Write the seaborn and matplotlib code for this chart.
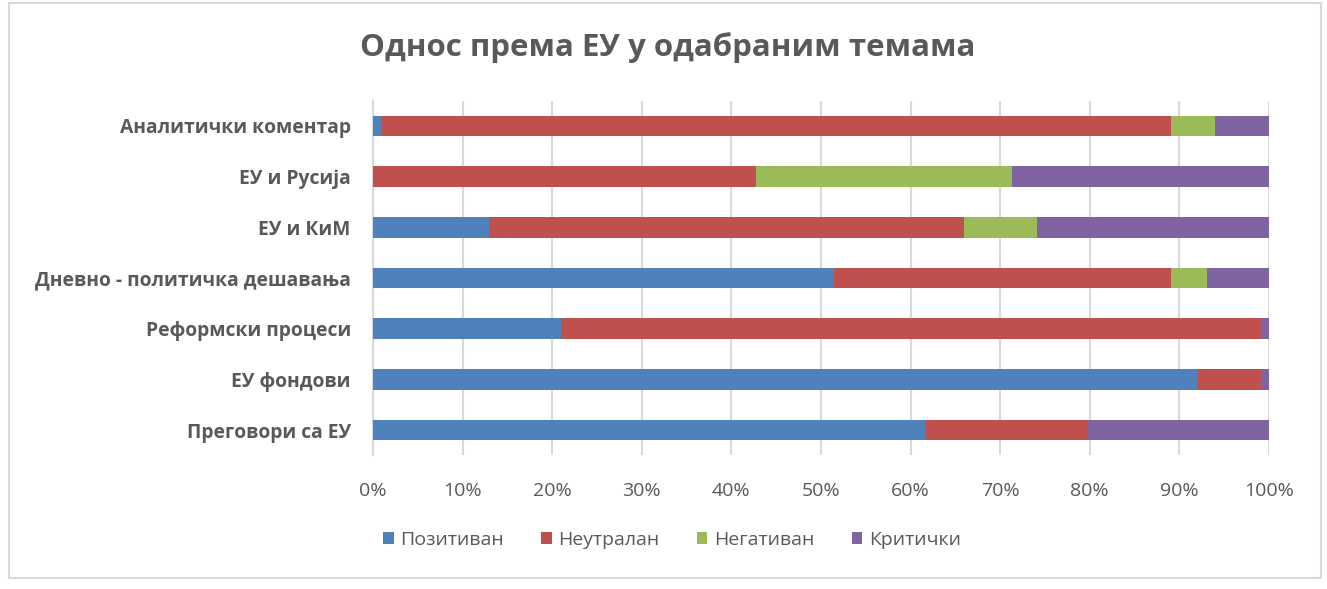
import numpy as np
import pandas as pd
import matplotlib
matplotlib.use("Agg")
import matplotlib.pyplot as plt
from matplotlib.patches import Rectangle
from matplotlib.ticker import FuncFormatter
import seaborn as sns

categories = ["Аналитички коментар", "ЕУ и Русија", "ЕУ и КиМ",
              "Дневно - политичка дешавања", "Реформски процеси",
              "ЕУ фондови", "Преговори са ЕУ"]
series = ["Позитиван", "Неутралан", "Негативан", "Критички"]
pozitivan = [0.9, 0.0, 13.0, 51.5, 21.0, 92.0, 61.6]
neutralan = [88.2, 42.7, 53.0, 37.6, 78.1, 7.1, 18.2]
negativan = [4.9, 28.6, 8.1, 4.0, 0.0, 0.0, 0.0]
kriticki = [6.0, 28.7, 25.9, 6.9, 0.9, 0.9, 20.2]
colors = ["#4F81BD", "#C0504D", "#9BBB59", "#8064A2"]
xticks = [0, 10, 20, 30, 40, 50, 60, 70, 80, 90, 100]

sns.set_theme(style="white")
plt.rcParams["font.family"] = ["Open Sans", "DejaVu Sans"]

W, H = 1327, 589
fig = plt.figure(figsize=(W / 100, H / 100), dpi=100)
ax = fig.add_axes([373 / W, 1 - 455.4 / H, (1269 - 373) / W, (455.4 - 100.6) / H])

vals = np.array([pozitivan, neutralan, negativan, kriticki])
cum = np.cumsum(vals, axis=0)
for i in range(len(series) - 1, -1, -1):
    df = pd.DataFrame({"cat": categories, "val": cum[i]})
    sns.barplot(data=df, y="cat", x="val", orient="y", color=colors[i],
                width=0.41, linewidth=0, saturation=1, ax=ax, zorder=3)

ax.set_xlim(0, 100)
ax.set_ylim(6.5, -0.5)
ax.set_xticks(xticks)
ax.xaxis.set_major_formatter(FuncFormatter(lambda v, p: f"{int(v)}%"))
ax.grid(axis="x", color="#D9D9D9", linewidth=1.5, zorder=0)
ax.grid(axis="y", visible=False)
for s in ["top", "right", "bottom"]:
    ax.spines[s].set_visible(False)
ax.spines["left"].set_color("#D9D9D9")
ax.spines["left"].set_linewidth(1.5)
ax.set_xlabel("")
ax.set_ylabel("")
ax.tick_params(axis="x", length=0, pad=19, labelsize=14, labelcolor="#595959")
ax.tick_params(axis="y", length=0, pad=16, labelsize=13.9, labelcolor="#595959")
for lab in ax.get_yticklabels():
    lab.set_fontweight("bold")

fig.text(0.5035, 1 - 48 / H, "Однос према ЕУ у одабраним темама", ha="center",
         va="center", fontsize=22.5, fontweight="bold", color="#595959")

handles = [Rectangle((0, 0), 1, 1, facecolor=c, edgecolor="none") for c in colors]
fig.legend(handles, series, loc="center", bbox_to_anchor=(672 / W, 1 - 540 / H),
           ncol=4, frameon=False, fontsize=14, labelcolor="#595959",
           handlelength=0.55, handleheight=0.55, handletextpad=0.35, columnspacing=1.9)

fig.patches.append(Rectangle((9 / W, 1 - 578 / H), (1321 - 9) / W, (578 - 3) / H,
                             transform=fig.transFigure, fill=False,
                             edgecolor="#D9D9D9", linewidth=1.5))

fig.savefig("out.png", dpi=100, facecolor="white")
